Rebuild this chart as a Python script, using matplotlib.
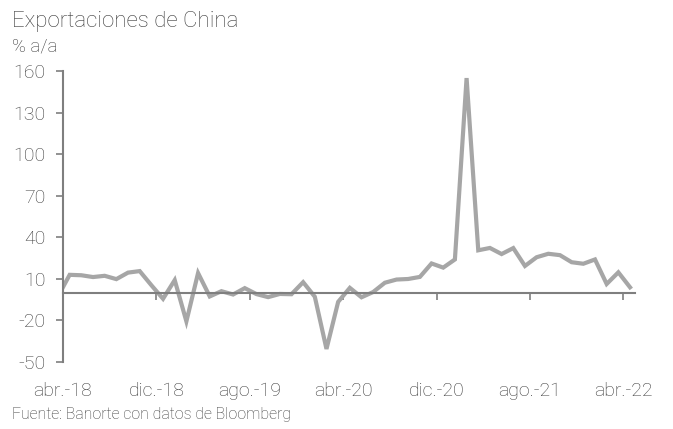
import numpy as np
import matplotlib.pyplot as plt

# exportaciones de China, % a/a, mensual mar-18 .. abr-22
mar18_dec18 = [-2.7, 12.9, 12.6, 11.3, 12.2, 9.8, 14.5, 15.6, 5.4, -4.4]
y2019 = [9.1, -20.7, 14.2, -2.7, 1.1, -1.3, 3.3, -1.0, -3.2, -0.9, -1.1, 7.6]
y2020 = [-2.9, -40.6, -6.6, 3.5, -3.3, 0.5, 7.2, 9.5, 9.9, 11.4, 21.1, 18.1]
y2021 = [24.0, 154.9, 30.6, 32.3, 27.9, 32.2, 19.3, 25.6, 28.1, 27.1, 22.0, 20.9]
y2022 = [24.0, 6.3, 14.7, 3.9]
exports = mar18_dec18 + y2019 + y2020 + y2021 + y2022

tick_labels = ["abr.-18", "dic.-18", "ago.-19", "abr.-20", "dic.-20", "ago.-21", "abr.-22"]
yticks = [-50, -20, 10, 40, 70, 100, 130, 160]

plt.rcParams['font.family'] = ['Roboto', 'DejaVu Sans']
plt.rcParams['font.weight'] = 'light'
txt = '#3a3a3a'
axc = '#7f7f7f'

fig = plt.figure(figsize=(6.73, 4.29), dpi=100)
ax = fig.add_axes([0.0936, 0.1562, 0.85, 0.6783])

# months counted from abr-18; points sit mid-month
x = np.arange(len(exports)) - 1 + 0.57
ax.plot(x, exports, color='#a6a6a6', lw=3.0, solid_joinstyle='miter')

ax.set_xlim(0, 49.0)
ax.set_ylim(-50, 160)
ax.set_yticks(yticks)
ax.set_yticklabels([str(v) for v in yticks])
ax.set_xticks(np.arange(len(tick_labels)) * 8)
ax.set_xticklabels(tick_labels)

for s in ['top', 'right']:
    ax.spines[s].set_visible(False)
ax.spines['bottom'].set_position(('data', 0))
for s in ['bottom', 'left']:
    ax.spines[s].set_color(axc)
    ax.spines[s].set_linewidth(1.5)

ax.tick_params(axis='y', direction='out', length=5, width=1.2, color=axc,
               labelsize=14, labelcolor=txt, pad=7.5)
ax.tick_params(axis='x', direction='out', length=5, width=1.2, color=axc,
               labelsize=14, labelcolor=txt, pad=59.5)

fig.text(0.018, 0.937, "Exportaciones de China", fontsize=16, color=txt)
fig.text(0.018, 0.879, "% a/a", fontsize=13.5, color=txt)
fig.text(0.018, 0.023, "Fuente: Banorte con datos de Bloomberg", fontsize=11.4, color=txt)

fig.savefig('out.png', dpi=100)
